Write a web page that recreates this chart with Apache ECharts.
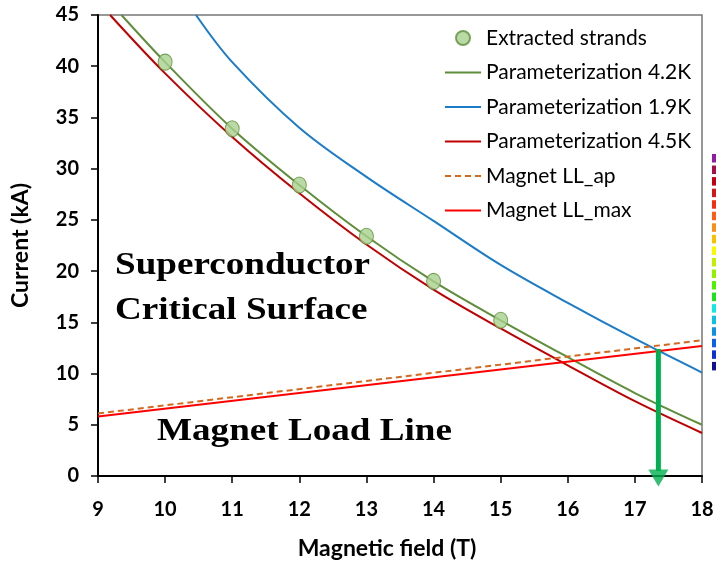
<!DOCTYPE html>
<html>
<head>
<meta charset="utf-8">
<script src="https://cdn.jsdelivr.net/npm/echarts@6/dist/echarts.min.js"></script>
<style>html,body{margin:0;padding:0;background:#fff}#c{width:716px;height:567px}</style>
</head>
<body>
<div id="c"></div>
<script>
// ---- data ----
var strandsX = [10, 11, 12, 13, 14, 15];
var strandsY = [40.4, 33.9, 28.4, 23.4, 19.0, 15.2];

var p42X = [9.35, 10, 11, 12, 13, 14, 15, 16, 17, 18];
var p42Y = [45, 40.4, 33.9, 28.4, 23.4, 19.0, 15.2, 11.6, 8.1, 5.0];

var p19X = [10.46, 11, 12, 13, 14, 15, 16, 17, 18];
var p19Y = [45, 40.4, 34.0, 29.2, 24.9, 20.6, 16.9, 13.4, 10.1];

var p45X = [9.18, 10, 11, 12, 13, 14, 15, 16, 17, 18];
var p45Y = [45, 39.3, 33.1, 27.6, 22.6, 18.2, 14.4, 10.8, 7.3, 4.2];

var llApX = [9, 18];
var llApY = [6.1, 13.25];
var llMaxX = [9, 18];
var llMaxY = [5.8, 12.7];

var arrowShaftX = [17.35, 17.35];
var arrowShaftY = [12.4, 0.5];
var arrowHeadX = [17.35];
var arrowHeadY = [-0.2];

var seriesNames = ['Extracted strands', 'Parameterization 4.2K', 'Parameterization 1.9K',
                   'Parameterization 4.5K', 'Magnet LL_ap', 'Magnet LL_max'];
var annotations = ['Superconductor', 'Critical Surface', 'Magnet Load Line'];
var stripColors = ['#8E1E9E','#A0104A','#C00010','#D01818','#F03010','#F86018','#F89018','#F8C000',
                   '#F8F800','#C0F000','#90F000','#50F000','#20E020','#10E8E0','#10C0E0','#1090E0',
                   '#1060E0','#1030D0','#101090'];

function zip(xs, ys) { return xs.map(function (x, i) { return [x, ys[i]]; }); }

var chart = echarts.init(document.getElementById('c'), null, {renderer: 'canvas'});

var annFont = 'bold 32px "Liberation Serif"';
var graphics = [
  {type: 'text', x: 115, y: 250, scaleX: 1.16, style: {text: annotations[0], font: annFont, fill: '#000', textAlign: 'left', textVerticalAlign: 'top'}},
  {type: 'text', x: 115, y: 295, scaleX: 1.16, style: {text: annotations[1], font: annFont, fill: '#000', textAlign: 'left', textVerticalAlign: 'top'}},
  {type: 'text', x: 157, y: 416, scaleX: 1.16, style: {text: annotations[2], font: annFont, fill: '#000', textAlign: 'left', textVerticalAlign: 'top'}}
];
stripColors.forEach(function (c, i) {
  graphics.push({type: 'rect', shape: {x: 712, y: 154 + i * 11.55, width: 5, height: 8.5}, style: {fill: c}});
});

var lineBase = {type: 'line', symbol: 'none', smooth: 0.35, clip: true, z: 3};
var noSym = {opacity: 0};

var option = {
  animation: false,
  backgroundColor: '#fff',
  grid: {left: 98, right: 14, top: 15, bottom: 91, containLabel: false, outerBoundsMode: 'none',
         show: true, borderColor: '#777', borderWidth: 1.5},
  xAxis: {
    type: 'value', min: 9, max: 18, interval: 1,
    name: 'Magnetic field (T)', nameLocation: 'middle', nameGap: 61,
    nameTextStyle: {fontFamily: 'Lato', fontWeight: 'bold', fontSize: 23, color: '#000', padding: [0, 26, 0, 0]},
    axisLine: {lineStyle: {color: '#000', width: 2}},
    axisTick: {length: 7, lineStyle: {color: '#000', width: 1.5}},
    axisLabel: {fontFamily: 'Lato', fontWeight: 'bold', fontSize: 20, color: '#000', margin: 24},
    splitLine: {show: false}
  },
  yAxis: {
    type: 'value', min: 0, max: 45, interval: 5,
    name: 'Current (kA)', nameLocation: 'middle', nameGap: 66, nameRotate: 90,
    nameTextStyle: {fontFamily: 'Lato', fontWeight: 'bold', fontSize: 23, color: '#000'},
    axisLine: {lineStyle: {color: '#000', width: 2}},
    axisTick: {length: 7, lineStyle: {color: '#000', width: 1.5}},
    axisLabel: {fontFamily: 'Lato', fontWeight: 'bold', fontSize: 20, color: '#000', margin: 19},
    splitLine: {show: false}
  },
  legend: {
    orient: 'vertical', left: 444, top: 26, padding: 0,
    itemWidth: 36, itemHeight: 14, itemGap: 10.5,
    textStyle: {fontFamily: 'Lato', fontSize: 21, color: '#000', lineHeight: 24},
    data: [
      {name: seriesNames[0]},
      {name: seriesNames[1], itemStyle: noSym},
      {name: seriesNames[2], itemStyle: noSym},
      {name: seriesNames[3], itemStyle: noSym},
      {name: seriesNames[4], itemStyle: noSym},
      {name: seriesNames[5], itemStyle: noSym}
    ]
  },
  series: [
    {name: seriesNames[0], type: 'scatter', data: zip(strandsX, strandsY), symbol: 'circle', symbolSize: [14, 16], z: 5,
     itemStyle: {color: '#A9D18E', borderColor: '#5E8E3A', borderWidth: 1}},
    Object.assign({}, lineBase, {name: seriesNames[1], data: zip(p42X, p42Y), itemStyle: {color: '#5E8E3A'}, lineStyle: {color: '#5E8E3A', width: 2}}),
    Object.assign({}, lineBase, {name: seriesNames[2], data: zip(p19X, p19Y), itemStyle: {color: '#1A7BC9'}, lineStyle: {color: '#1A7BC9', width: 2}}),
    Object.assign({}, lineBase, {name: seriesNames[3], data: zip(p45X, p45Y), itemStyle: {color: '#C00000'}, lineStyle: {color: '#C00000', width: 2}}),
    Object.assign({}, lineBase, {name: seriesNames[4], smooth: false, data: zip(llApX, llApY), itemStyle: {color: '#D2691E'}, lineStyle: {color: '#D2691E', width: 2, type: [6, 4]}}),
    Object.assign({}, lineBase, {name: seriesNames[5], smooth: false, data: zip(llMaxX, llMaxY), itemStyle: {color: '#FF0000'}, lineStyle: {color: '#FF0000', width: 2}}),
    {name: 'arrowShaft', type: 'line', symbol: 'none', clip: false, z: 6, silent: true,
     data: zip(arrowShaftX, arrowShaftY), lineStyle: {color: '#00B050', width: 5, cap: 'butt'}},
    {name: 'arrowHead', type: 'scatter', symbol: 'triangle', symbolRotate: 180, symbolSize: [20, 17], clip: false, z: 6, silent: true,
     data: zip(arrowHeadX, arrowHeadY), itemStyle: {color: '#00B050'}}
  ],
  graphic: graphics
};
chart.setOption(option);
</script>
</body>
</html>
